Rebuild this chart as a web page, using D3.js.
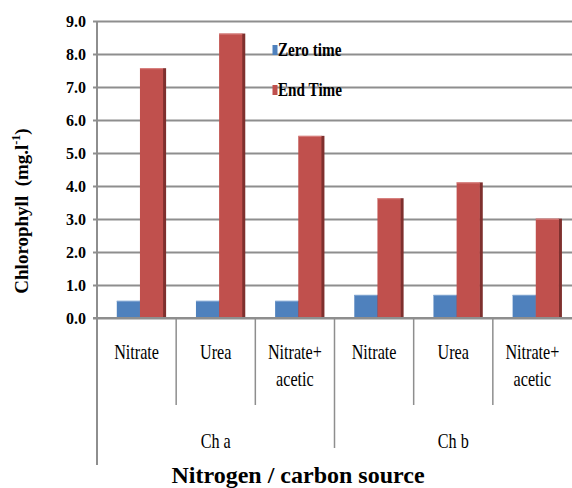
<!DOCTYPE html>
<html>
<head>
<meta charset="utf-8">
<script src="https://cdn.jsdelivr.net/npm/d3@7/dist/d3.min.js"></script>
<style>
  html, body { margin: 0; padding: 0; background: #fff; }
  svg { display: block; }
</style>
</head>
<body>
<svg id="chart" width="572" height="488"></svg>
<script>
// Chlorophyll content by nitrogen / carbon source
const groups = ["Ch a", "Ch b"];
const categories = ["Nitrate", "Urea", "Nitrate+|acetic", "Nitrate", "Urea", "Nitrate+|acetic"];
const categoryGroup = ["Ch a", "Ch a", "Ch a", "Ch b", "Ch b", "Ch b"];
const series = ["Zero time", "End Time"];
const zeroTime = [0.52, 0.52, 0.52, 0.70, 0.70, 0.70];
const endTime = [7.57, 8.62, 5.52, 3.63, 4.11, 3.01];
const yTicks = [0, 1, 2, 3, 4, 5, 6, 7, 8, 9];

const colors = { "Zero time": "#4F81BD", "End Time": "#C0504D" };
const sideColors = { "Zero time": "#385D8A", "End Time": "#7F302E" };
const topColors = { "Zero time": "#7FA3D0", "End Time": "#D98482" };

const svg = d3.select("#chart");
const plotLeft = 97, plotRight = 572, plotTop = 21, plotBottom = 318;

const y = d3.scaleLinear().domain([0, 9]).range([plotBottom, plotTop]);
const x = d3.scaleBand().domain(d3.range(categories.length)).range([plotLeft, plotRight]).padding(0);
const xs = d3.scaleBand().domain(series).range([x.bandwidth() * 0.25, x.bandwidth() * 0.835]).padding(0);

const gridColor = "#8E8E8E";
const serif = "'Liberation Serif', 'Times New Roman', serif";

// horizontally condensed text helper
function squeeze(sel, cx, k) {
  return sel.attr("transform", `translate(${cx},0) scale(${k},1) translate(${-cx},0)`);
}

// horizontal gridlines + y tick labels
const yAxis = d3.axisLeft(y).tickValues(yTicks).tickSize(-(plotRight - plotLeft)).tickSizeOuter(0)
  .tickFormat(d3.format(".1f"));
const gy = svg.append("g").attr("transform", `translate(${plotLeft},0)`).call(yAxis);
gy.select(".domain").remove();
gy.selectAll(".tick line").attr("stroke", gridColor).attr("stroke-width", 2).attr("x1", -4);
gy.selectAll(".tick text")
  .attr("x", -11)
  .attr("font-family", serif)
  .attr("font-weight", "bold")
  .attr("font-size", 16)
  .attr("fill", "#000");

// vertical axis line
svg.append("line").attr("x1", plotLeft).attr("x2", plotLeft).attr("y1", plotTop).attr("y2", 465)
  .attr("stroke", gridColor).attr("stroke-width", 2);

// legend
const legend = svg.append("g");
series.forEach((s, i) => {
  const base = 56 + i * 40;
  legend.append("rect").attr("x", 272.5).attr("y", base - 11).attr("width", 5).attr("height", 10)
    .attr("fill", colors[s]);
  squeeze(legend.append("text").attr("x", 278).attr("y", base)
    .attr("font-family", serif)
    .attr("font-weight", "bold").attr("font-size", 19)
    .text(s), 278, 0.8);
});

// bars with a thin shaded side and top edge
const data = categories.map((c, i) => ({ i, values: [
  { s: "Zero time", v: zeroTime[i] },
  { s: "End Time", v: endTime[i] }
]}));

const cat = svg.append("g").selectAll("g").data(data).join("g")
  .attr("transform", d => `translate(${x(d.i)},0)`);

cat.each(function(d) {
  const g = d3.select(this);
  d.values.forEach(b => {
    const bx = xs(b.s), bw = xs.bandwidth(), by = y(b.v), bh = y(0) - y(b.v);
    g.append("rect").attr("x", bx + bw - 0.5).attr("y", by).attr("width", 3.5).attr("height", bh)
      .attr("fill", sideColors[b.s]);
    g.append("rect").attr("x", bx).attr("y", by).attr("width", bw).attr("height", bh)
      .attr("fill", colors[b.s]);
    g.append("rect").attr("x", bx).attr("y", by).attr("width", bw).attr("height", 1)
      .attr("fill", topColors[b.s]);
  });
});

// x axis line
svg.append("line").attr("x1", plotLeft - 4).attr("x2", plotRight).attr("y1", plotBottom).attr("y2", plotBottom)
  .attr("stroke", gridColor).attr("stroke-width", 2);

// category separators (longer between groups)
d3.range(1, categories.length).forEach(k => {
  const xx = plotLeft + k * x.step();
  const isGroupEdge = categoryGroup[k] !== categoryGroup[k - 1];
  svg.append("line").attr("x1", xx).attr("x2", xx).attr("y1", plotBottom).attr("y2", isGroupEdge ? 448 : 405)
    .attr("stroke", gridColor).attr("stroke-width", 1.5);
});

// category labels
categories.forEach((c, i) => {
  const cx = x(i) + x.bandwidth() / 2;
  c.split("|").forEach((line, j) => {
    squeeze(svg.append("text").attr("x", cx).attr("y", 359 + j * 27.5)
      .attr("text-anchor", "middle")
      .attr("font-family", serif).attr("font-size", 21)
      .text(line), cx, 0.77);
  });
});

// group labels
groups.forEach(gname => {
  const idx = categoryGroup.map((g, i) => g === gname ? i : -1).filter(i => i >= 0);
  const gx = (x(idx[0]) + x(idx[idx.length - 1]) + x.bandwidth()) / 2;
  squeeze(svg.append("text").attr("x", gx).attr("y", 448)
    .attr("text-anchor", "middle")
    .attr("font-family", serif).attr("font-size", 21)
    .text(gname), gx, 0.77);
});

// axis titles
svg.append("text").attr("x", 298).attr("y", 483)
  .attr("text-anchor", "middle")
  .attr("font-family", serif).attr("font-weight", "bold").attr("font-size", 24)
  .text("Nitrogen / carbon source");

const yt = svg.append("text")
  .attr("transform", "translate(28,211) rotate(-90)")
  .attr("text-anchor", "middle")
  .style("white-space", "pre")
  .attr("font-family", serif).attr("font-weight", "bold").attr("font-size", 19);
yt.append("tspan").text("Chlorophyll  (mg.l");
yt.append("tspan").attr("dy", -8).attr("font-size", 12).text("-1");
yt.append("tspan").attr("dy", 8).text(")");
</script>
</body>
</html>
